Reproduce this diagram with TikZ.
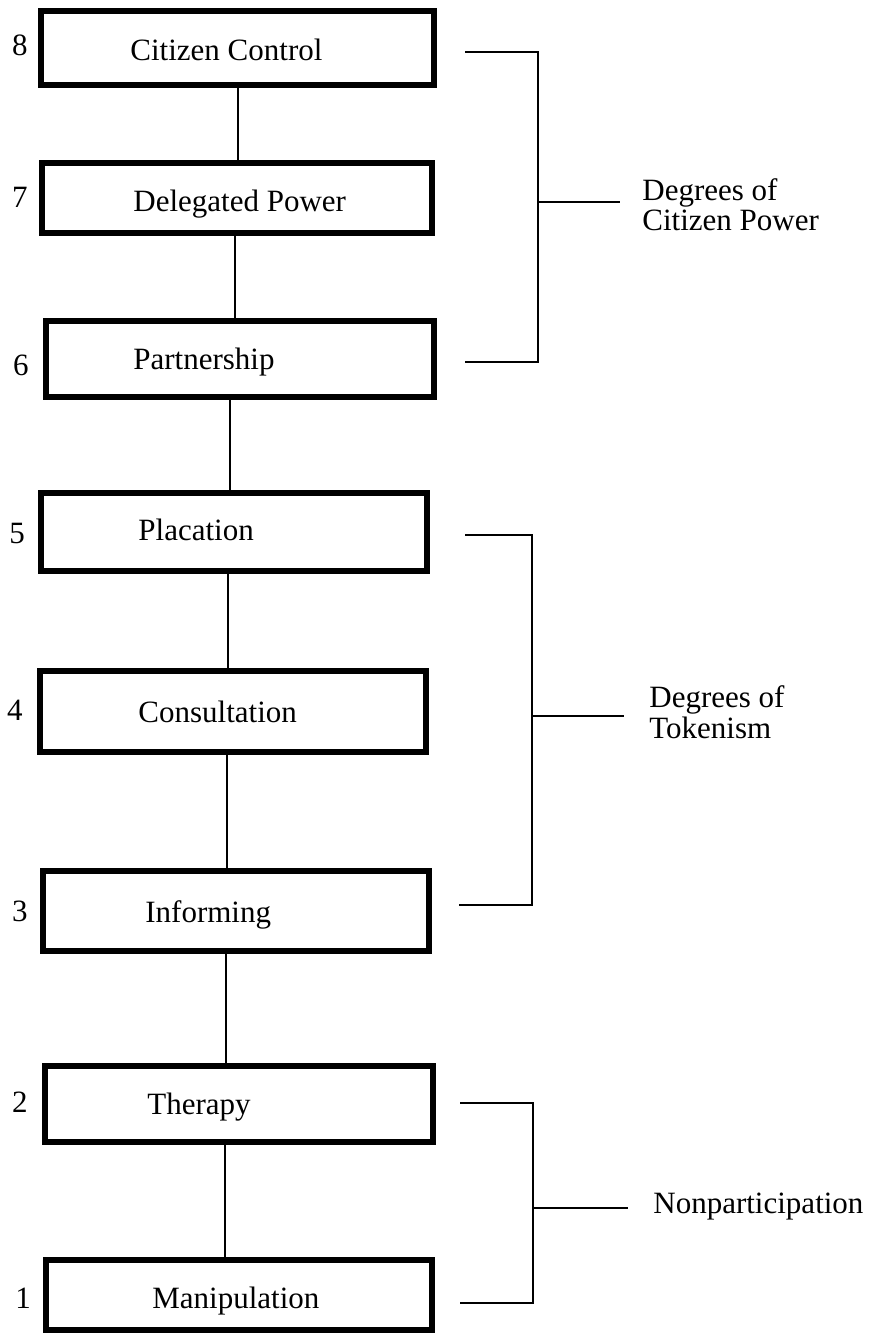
\documentclass[tikz,border=0pt]{standalone}
\usepackage{fontspec}
\setmainfont{Liberation Serif}
\begin{document}
\begin{tikzpicture}[x=0.5pt,y=-0.5pt,
  box/.style={draw, line width=3pt, rectangle, inner sep=0pt},
  conn/.style={line width=1pt},
  brk/.style={line width=1.1pt},
  lbl/.style={anchor=base west, inner sep=0pt, font=\fontsize{15.5}{15.5}\selectfont},
  num/.style={anchor=base, inner sep=0pt, font=\fontsize{15.5}{15.5}\selectfont}]
\useasboundingbox[fill=white] (0,0) rectangle (874,1335);

% boxes
\node[box, minimum width=196.5pt, minimum height=37pt] (b8) at (237.5,48) {};
\node[box, minimum width=195pt, minimum height=35pt] (b7) at (237,198) {};
\node[box, minimum width=194pt, minimum height=38pt] (b6) at (240,359) {};
\node[box, minimum width=193pt, minimum height=39pt] (b5) at (234,532) {};
\node[box, minimum width=193pt, minimum height=40.5pt] (b4) at (233,711.5) {};
\node[box, minimum width=193pt, minimum height=40pt] (b3) at (236,911) {};
\node[box, minimum width=194pt, minimum height=38pt] (b2) at (239,1104) {};
\node[box, minimum width=193pt, minimum height=35pt] (b1) at (239,1295) {};

% box labels
\node[lbl] (t8) at (130,60) {Citizen Control};
\node[lbl] (t7) at (133,211) {Delegated Power};
\node[lbl] (t6) at (133,369) {Partnership};
\node[lbl] (t5) at (138,540) {Placation};
\node[lbl] (t4) at (138,722) {Consultation};
\node[lbl] (t3) at (145,922) {Informing};
\node[lbl] (t2) at (147,1114) {Therapy};
\node[lbl] (t1) at (152,1308) {Manipulation};

% numbers
\node[num] (n8) at (20,55) {8};
\node[num] (n7) at (20,207) {7};
\node[num] (n6) at (21,375) {6};
\node[num] (n5) at (17,543) {5};
\node[num] (n4) at (15,720) {4};
\node[num] (n3) at (20,921) {3};
\node[num] (n2) at (20,1112) {2};
\node[num] (n1) at (23,1308) {1};

% connectors
\draw[conn] (b8.south -| 238,0) -- (b7.north -| 238,0);
\draw[conn] (b7.south -| 235,0) -- (b6.north -| 235,0);
\draw[conn] (b6.south -| 230,0) -- (b5.north -| 230,0);
\draw[conn] (b5.south -| 228,0) -- (b4.north -| 228,0);
\draw[conn] (b4.south -| 227,0) -- (b3.north -| 227,0);
\draw[conn] (b3.south -| 226,0) -- (b2.north -| 226,0);
\draw[conn] (b2.south -| 225,0) -- (b1.north -| 225,0);

% bracket 1
\coordinate (a1t) at (465,52);
\coordinate (a1b) at (465,362);
\coordinate (a1k) at (538,202);
\coordinate (a1e) at (620,202);
\draw[brk] (a1t) -| (a1k) |- (a1b);
\draw[brk] (a1k) -- (a1e);
\node[lbl] (g1a) at (642,200) {Degrees of};
\node[lbl] (g1b) at (642,230) {Citizen Power};

% bracket 2
\coordinate (a2t) at (465,535);
\coordinate (a2b) at (459,905);
\coordinate (a2k) at (532,716);
\coordinate (a2e) at (624,716);
\draw[brk] (a2t) -| (a2k) |- (a2b);
\draw[brk] (a2k) -- (a2e);
\node[lbl] (g2a) at (649,707) {Degrees of};
\node[lbl] (g2b) at (649,738) {Tokenism};

% bracket 3
\coordinate (a3t) at (460,1103);
\coordinate (a3b) at (460,1303);
\coordinate (a3k) at (533,1208);
\coordinate (a3e) at (628,1208);
\draw[brk] (a3t) -| (a3k) |- (a3b);
\draw[brk] (a3k) -- (a3e);
\node[lbl] (g3) at (653,1213) {Nonparticipation};
\end{tikzpicture}
\end{document}
